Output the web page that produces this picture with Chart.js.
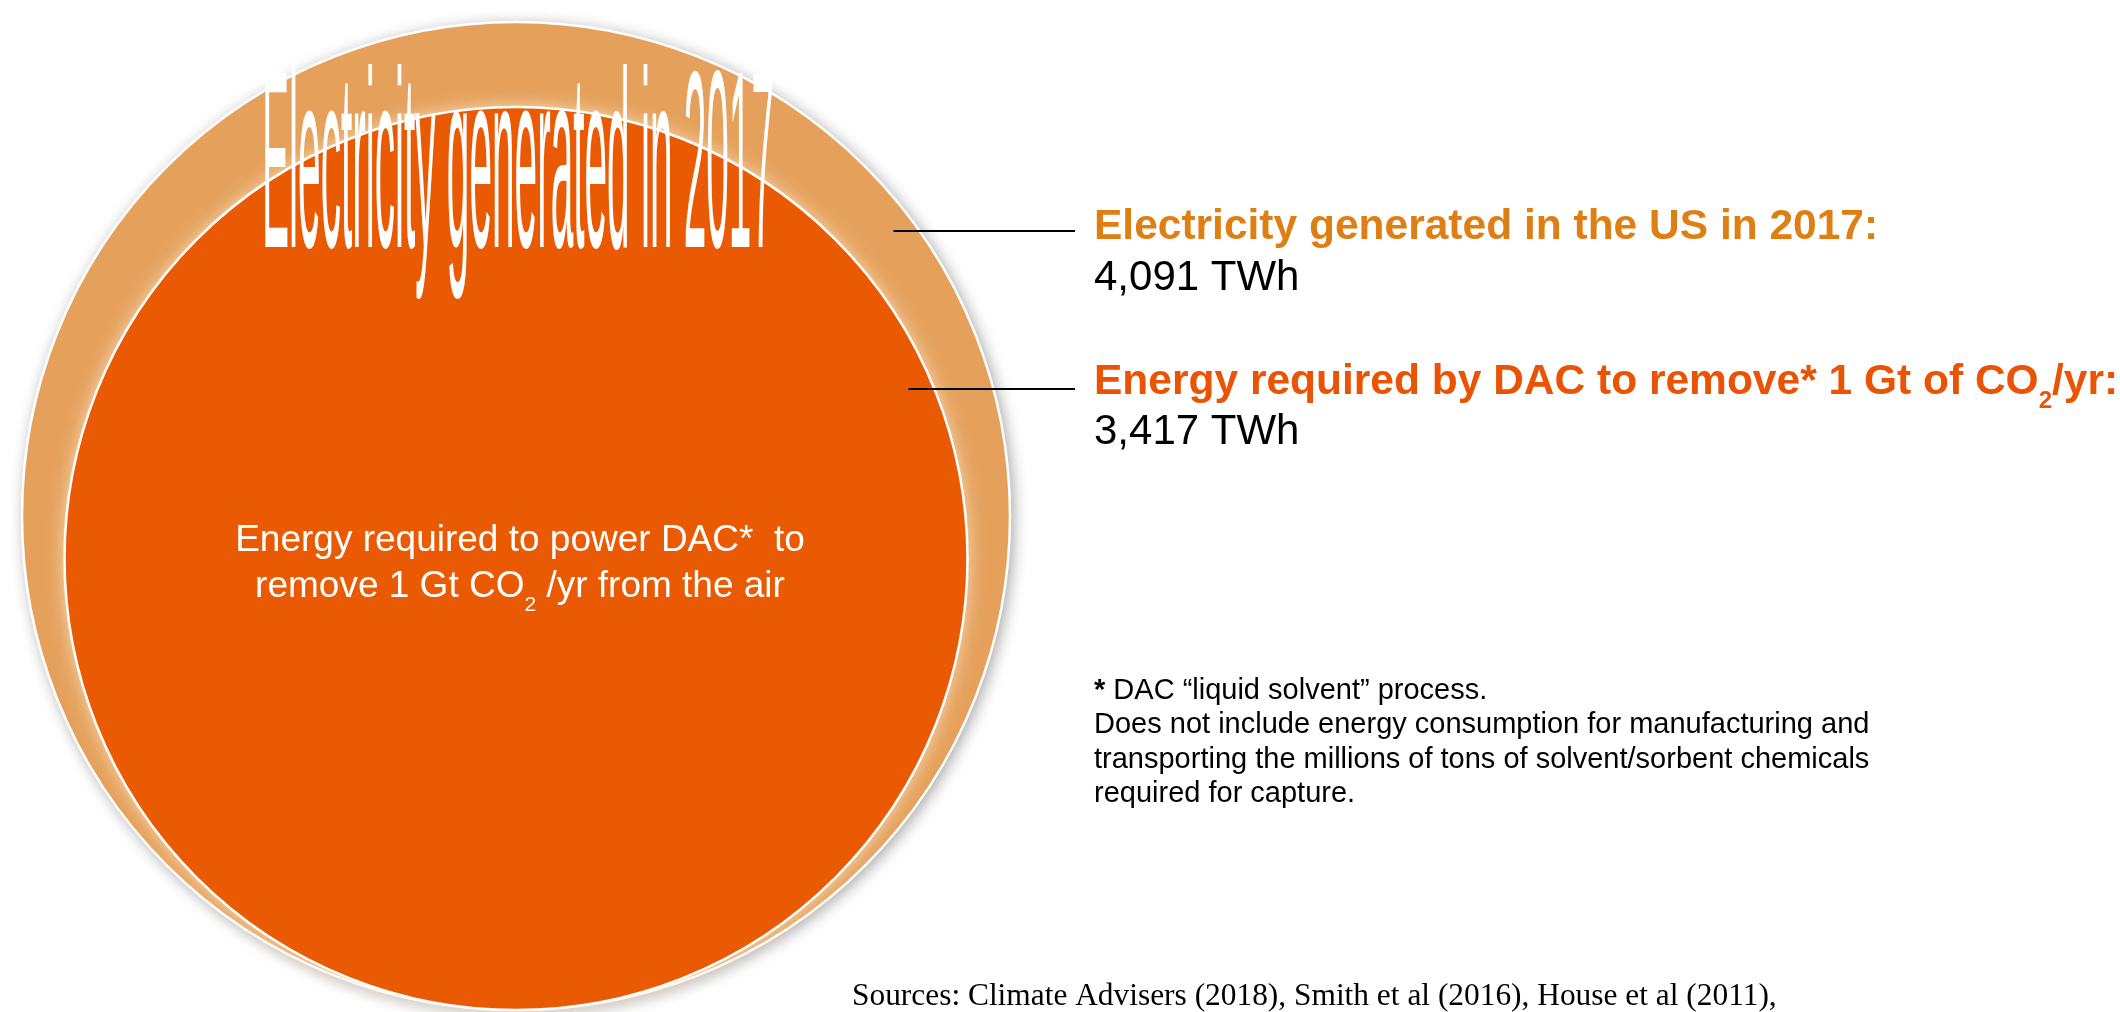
<!DOCTYPE html>
<html>
<head>
<meta charset="utf-8">
<script src="https://cdn.jsdelivr.net/npm/chart.js@4.4.1/dist/chart.umd.min.js"></script>
<style>
  html, body { margin: 0; padding: 0; background: #ffffff; overflow: hidden; }
  canvas { display: block; }
</style>
</head>
<body>
<canvas id="chart" width="2120" height="1012"></canvas>
<script>
// Annual energy amounts compared as nested, area-proportional circles (TWh)
const categories = [
  'Electricity generated in the US in 2017',
  'Energy required by DAC to remove* 1 Gt of CO₂/yr'
];
const valuesTWh = [4091, 3417];
const unit = 'TWh';

const bubbleTitle = 'Electricity generated in 2017';
const innerCaption = [
  'Energy required to power DAC*  to',
  'remove 1 Gt CO₂ /yr from the air'
];
const footnoteMark = '*';
const footnoteLines = [
  ' DAC \u201Cliquid solvent\u201D process.',
  'Does not include energy consumption for manufacturing and',
  'transporting the millions of tons of solvent/sorbent chemicals',
  'required for capture.'
];
const sourcesLine = 'Sources: Climate Advisers (2018), Smith et al (2016), House et al (2011),';

// ---- layout & style ----
const W = 2120, H = 1012;
const MAX_RADIUS = 494;      // px radius of the largest value
const CENTER_X = 516;        // shared horizontal centre of the circles
const BASE_Y = 2;            // circles rest on this line (units from the bottom)
const fills = ['#E5A15C', '#EA5A03'];
const labelColors = ['#DF7E12', '#EB5304'];
const SANS = '"Liberation Sans", Arial, Helvetica, sans-serif';
const SERIF = '"Liberation Serif", "Times New Roman", Times, serif';

const maxValue = Math.max(...valuesTWh);
const radiusOf = v => MAX_RADIUS * Math.sqrt(v / maxValue);
const fmt = v => v.toLocaleString('en-US') + ' ' + unit;

const datasets = categories.map((name, i) => {
  const r = radiusOf(valuesTWh[i]);
  return {
    label: name,
    data: [{ x: CENTER_X, y: BASE_Y + r, r: r }],
    backgroundColor: fills[i],
    borderColor: '#ffffff',
    borderWidth: 2.5,
    hoverRadius: 0,
    hoverBorderWidth: 2.5,
    clip: false,
    order: categories.length - i   // larger circle painted first
  };
});

// shadow / glow drawn beneath each circle
const glows = [
  { color: 'rgba(0,0,0,0.38)', blur: 16, dx: 3, dy: 3 },
  { color: 'rgba(255,236,212,0.85)', blur: 18, dx: 0, dy: 0 }
];

const glowPlugin = {
  id: 'circleGlow',
  beforeDatasetDraw(chart, args) {
    const el = args.meta.data[0];
    if (!el) return;
    const g = glows[args.index];
    const ctx = chart.ctx;
    ctx.save();
    ctx.shadowColor = g.color;
    ctx.shadowBlur = g.blur;
    ctx.shadowOffsetX = g.dx;
    ctx.shadowOffsetY = g.dy;
    ctx.fillStyle = fills[args.index];
    ctx.beginPath();
    ctx.arc(el.x, el.y, el.options.radius, 0, Math.PI * 2);
    ctx.fill();
    ctx.restore();
  }
};

// text with '₂' rendered as a lowered, smaller 2
function richWidth(ctx, text, font, subFont) {
  const parts = text.split('₂');
  let w = 0;
  parts.forEach((p, k) => {
    ctx.font = font; w += ctx.measureText(p).width;
    if (k < parts.length - 1) { ctx.font = subFont; w += ctx.measureText('2').width; }
  });
  return w;
}
function drawRich(ctx, text, x, y, font, subFont, subDy, align) {
  const total = richWidth(ctx, text, font, subFont);
  let cx = align === 'center' ? x - total / 2 : x;
  ctx.textAlign = 'left';
  const parts = text.split('₂');
  parts.forEach((p, k) => {
    ctx.font = font; ctx.fillText(p, cx, y); cx += ctx.measureText(p).width;
    if (k < parts.length - 1) {
      ctx.font = subFont; ctx.fillText('2', cx, y + subDy); cx += ctx.measureText('2').width;
    }
  });
}

const textPlugin = {
  id: 'annotations',
  afterDatasetsDraw(chart) {
    const ctx = chart.ctx;
    const els = chart.getSortedVisibleDatasetMetas()
      .sort((a, b) => a.index - b.index)
      .map(m => m.data[0]);
    const outer = els[0];
    ctx.save();
    ctx.textBaseline = 'alphabetic';

    // tall condensed heading inside the large circle
    ctx.fillStyle = '#ffffff';
    ctx.font = '40px ' + SANS;
    const tw = ctx.measureText(bubbleTitle).width;
    const capH = ctx.measureText('E').actualBoundingBoxAscent;
    const boxW = 512, boxCap = 177, baseY = 247;
    ctx.save();
    ctx.translate(outer.x + 2, baseY);
    ctx.scale(boxW / tw, boxCap / capH);
    ctx.textAlign = 'center';
    ctx.fillText(bubbleTitle, 0, 0);
    ctx.restore();

    // caption in the small circle
    ctx.fillStyle = '#ffffff';
    drawRich(ctx, innerCaption[0], outer.x + 4, 551, '37px ' + SANS, '21px ' + SANS, 14, 'center');
    drawRich(ctx, innerCaption[1], outer.x + 4, 597, '37px ' + SANS, '21px ' + SANS, 14, 'center');

    // labels with leader lines
    const labelX = 1094;
    const leaderY = [231, 389];
    const labelBase = [238.5, 394];
    const valueBase = [290, 444];
    categories.forEach((name, i) => {
      const el = els[i];
      const r = el.options.radius;
      const dy = leaderY[i] - el.y;
      const edgeX = el.x + Math.sqrt(Math.max(0, r * r - dy * dy));
      ctx.strokeStyle = '#000000';
      ctx.lineWidth = 2;
      ctx.beginPath();
      ctx.moveTo(edgeX - 26, leaderY[i]);
      ctx.lineTo(labelX - 19, leaderY[i]);
      ctx.stroke();

      ctx.fillStyle = labelColors[i];
      drawRich(ctx, name + ':', labelX, labelBase[i], 'bold 42.5px ' + SANS, 'bold 24px ' + SANS, 14, 'left');
      ctx.fillStyle = '#000000';
      ctx.font = '42px ' + SANS;
      ctx.textAlign = 'left';
      ctx.fillText(fmt(valuesTWh[i]), labelX, valueBase[i]);
    });

    // footnote
    const fnBase = [699, 733.3, 767.6, 802];
    ctx.fillStyle = '#000000';
    ctx.textAlign = 'left';
    ctx.font = 'bold 29px ' + SANS;
    ctx.fillText(footnoteMark, labelX, fnBase[0]);
    const markW = ctx.measureText(footnoteMark).width;
    ctx.font = '29px ' + SANS;
    ctx.fillText(footnoteLines[0], labelX + markW, fnBase[0]);
    for (let k = 1; k < footnoteLines.length; k++) {
      ctx.fillText(footnoteLines[k], labelX, fnBase[k]);
    }

    // sources
    ctx.font = '31.4px ' + SERIF;
    ctx.fillText(sourcesLine, 852, 1005);

    ctx.restore();
  }
};

new Chart(document.getElementById('chart'), {
  type: 'bubble',
  data: { datasets },
  options: {
    responsive: false,
    animation: false,
    devicePixelRatio: 1,
    events: [],
    layout: { padding: 0, autoPadding: false },
    plugins: {
      legend: { display: false },
      tooltip: { enabled: false },
      title: { display: false }
    },
    scales: {
      x: { type: 'linear', min: 0, max: W, display: false },
      y: { type: 'linear', min: 0, max: H, display: false }
    }
  },
  plugins: [glowPlugin, textPlugin]
});
</script>
</body>
</html>
